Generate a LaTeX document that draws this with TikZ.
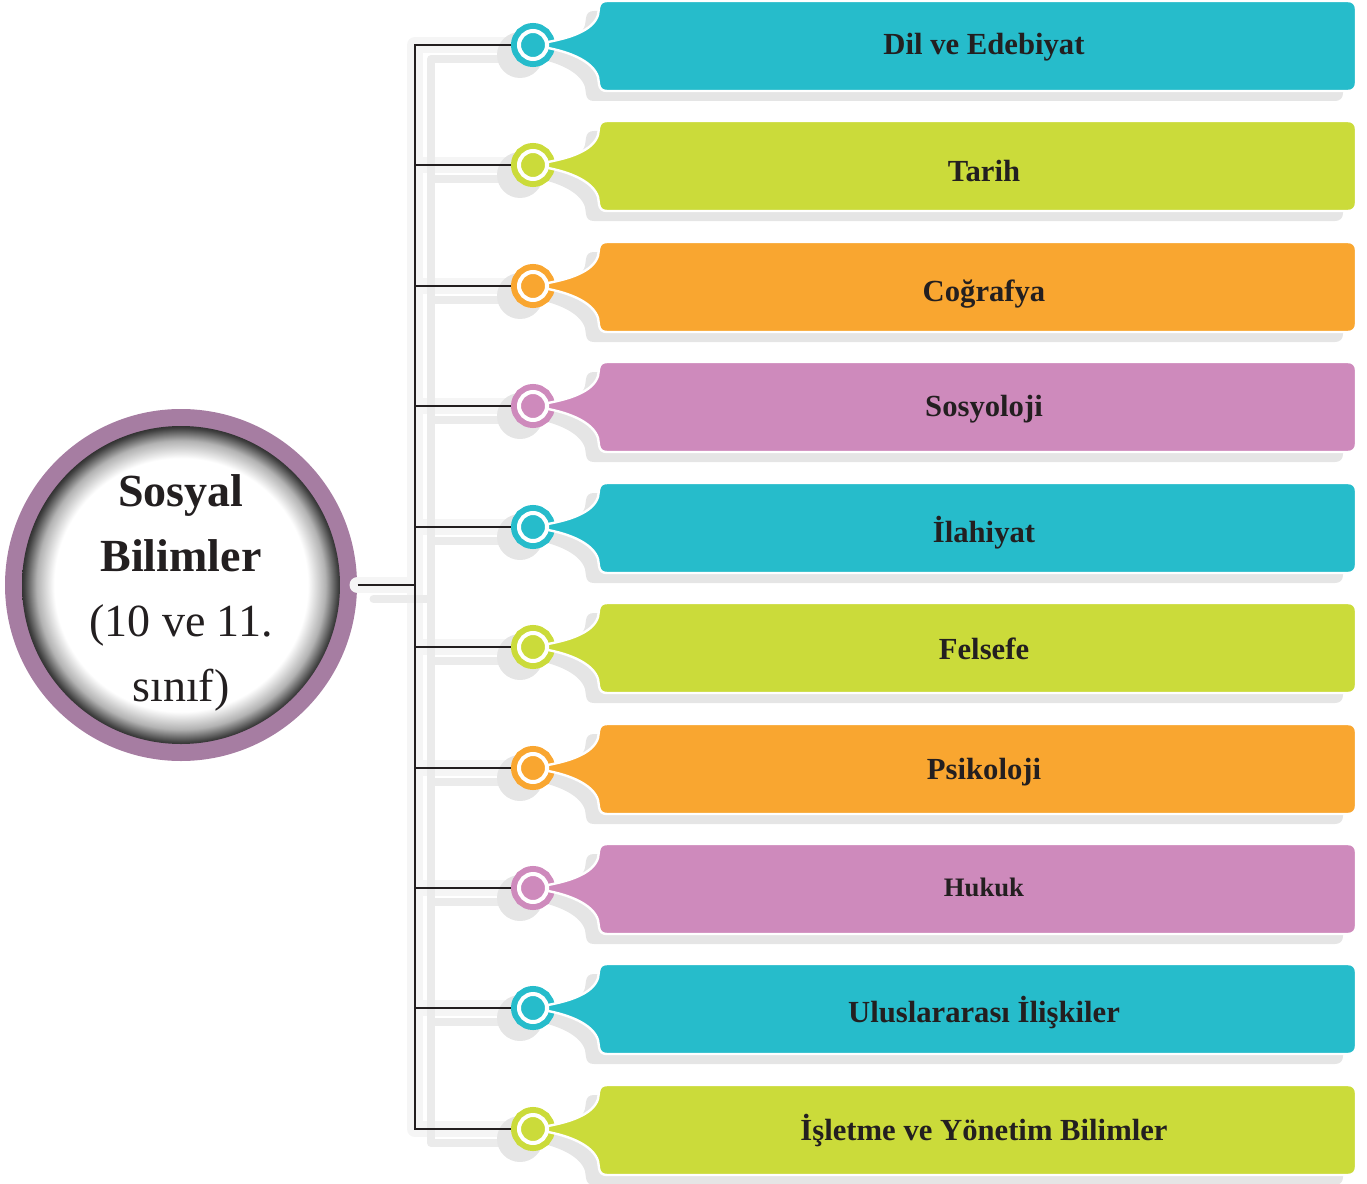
\documentclass[tikz,border=0pt]{standalone}
\usepackage{fontspec}
\setmainfont{Liberation Serif}

\definecolor{tealc}{RGB}{38,188,203}
\definecolor{limec}{RGB}{203,219,58}
\definecolor{orangec}{RGB}{249,166,48}
\definecolor{pinkc}{RGB}{206,138,188}
\definecolor{ringc}{RGB}{166,125,162}
\definecolor{shadec}{RGB}{229,229,229}
\definecolor{inkc}{RGB}{35,31,32}

\pgfdeclareradialshading{rimshade}{\pgfpoint{0bp}{0bp}}{color(0bp)=(white); color(18bp)=(white); color(20.5bp)=(black!30); color(22.3bp)=(black!75); color(23.5bp)=(black!95); color(25bp)=(black); color(50bp)=(black)}

%outline of one tag, seen from the centre of its knob (pics keep y pointing up)
\newcommand{\tagoutline}{(15,3) .. controls (36,7) and (60,14) .. (65,30) -- (66,37) .. controls (66.5,41.5) and (69,44) .. (74,44) -- (815,44) .. controls (820,44) and (823,41) .. (823,36) -- (823,-38) .. controls (823,-43) and (820,-46) .. (815,-46) -- (74,-46) .. controls (69,-46) and (66.5,-43.5) .. (66,-39) -- (65,-32) .. controls (60,-16) and (36,-7) .. (15,-3) -- cycle}

\tikzset{every picture/.style={line width=0.75pt},
  linkline/.style={draw=inkc, line width=1.5pt},
  linkshade/.style={draw=black!8, line width=6pt, line cap=round, preaction={draw=black!4, line width=12pt, line cap=round}},
  bigdisc/.style={circle, minimum size=264pt, inner sep=0pt, fill=ringc, path picture={\shade[shading=rimshade] (path picture bounding box.center) circle (159);}},
  disctext/.style={align=center, inner sep=0pt, text=inkc, font=\fontsize{34.5}{48.75}\selectfont},
  knob/.style={circle, minimum size=21pt, inner sep=0pt, outer sep=6pt, fill=#1, draw=white, line width=3pt, preaction={draw=#1, line width=12pt}},
  tagtext/.style={anchor=base, inner sep=0.75pt, text=inkc, font=\fontsize{23}{27}\selectfont\bfseries},
  pics/tagshade/.style={code={\fill[shadec] (-13,-10) circle (23); \fill[shadec, shift={(-13,-10)}] \tagoutline;}},
  pics/tagbody/.style={code={\filldraw[fill=#1, draw=white, line width=1.8pt] \tagoutline;}}
}

\begin{document}
\begin{tikzpicture}[x=0.75pt,y=0.75pt,yscale=-1,xscale=1]
\useasboundingbox (0,0) rectangle (1367,1184);

%Shape: Circle [main topic]
\node[bigdisc] (sb) at (181,585) {};
% Text Node
\node[disctext] (sbt) at (181,593) {\textbf{Sosyal}\\\textbf{Bilimler}\\(10 ve 11.\\sınıf)};

%Junctions on the stem
\coordinate (hub) at (415,585);
\coordinate (t1) at (415,45);
\coordinate (t2) at (415,165);
\coordinate (t3) at (415,286);
\coordinate (t4) at (415,406);
\coordinate (t5) at (415,527);
\coordinate (t6) at (415,647);
\coordinate (t7) at (415,768);
\coordinate (t8) at (415,888);
\coordinate (t9) at (415,1008);
\coordinate (t10) at (415,1129);

%Shadows of the lines
\draw[linkshade, transform canvas={shift={(16,-14)}}] (sb.east) -- (hub) (t1) -- (t10) (t1) -- ++(96,0) (t2) -- ++(96,0) (t3) -- ++(96,0) (t4) -- ++(96,0) (t5) -- ++(96,0) (t6) -- ++(96,0) (t7) -- ++(96,0) (t8) -- ++(96,0) (t9) -- ++(96,0) (t10) -- ++(96,0);

%Shadows of the tags
\pic at (533,45) {tagshade};
\pic at (533,165) {tagshade};
\pic at (533,286) {tagshade};
\pic at (533,406) {tagshade};
\pic at (533,527) {tagshade};
\pic at (533,647) {tagshade};
\pic at (533,768) {tagshade};
\pic at (533,888) {tagshade};
\pic at (533,1008) {tagshade};
\pic at (533,1129) {tagshade};

%Tags
\node[knob=tealc] (k1) at (533,45) {};
\pic at (k1) {tagbody=tealc};
\node[tagtext] (n1) at (984,55) {Dil ve Edebiyat};

\node[knob=limec] (k2) at (533,165) {};
\pic at (k2) {tagbody=limec};
\node[tagtext] (n2) at (984,182) {Tarih};

\node[knob=orangec] (k3) at (533,286) {};
\pic at (k3) {tagbody=orangec};
\node[tagtext] (n3) at (984,301) {Coğrafya};

\node[knob=pinkc] (k4) at (533,406) {};
\pic at (k4) {tagbody=pinkc};
\node[tagtext] (n4) at (984,416) {Sosyoloji};

\node[knob=tealc] (k5) at (533,527) {};
\pic at (k5) {tagbody=tealc};
\node[tagtext] (n5) at (984,542) {İlahiyat};

\node[knob=limec] (k6) at (533,647) {};
\pic at (k6) {tagbody=limec};
\node[tagtext] (n6) at (984,659) {Felsefe};

\node[knob=orangec] (k7) at (533,768) {};
\pic at (k7) {tagbody=orangec};
\node[tagtext] (n7) at (984,779) {Psikoloji};

\node[knob=pinkc] (k8) at (533,888) {};
\pic at (k8) {tagbody=pinkc};
\node[tagtext, font=\fontsize{20}{24}\selectfont\bfseries] (n8) at (984,896) {Hukuk};

\node[knob=tealc] (k9) at (533,1008) {};
\pic at (k9) {tagbody=tealc};
\node[tagtext] (n9) at (984,1022) {Uluslararası İlişkiler};

\node[knob=limec] (k10) at (533,1129) {};
\pic at (k10) {tagbody=limec};
\node[tagtext] (n10) at (984,1140) {İşletme ve Yönetim Bilimler};

%Straight Lines
\draw[linkline] (k1) -- (t1) -- (t10) -- (k10);
\draw[linkline] (t2) -- (k2);
\draw[linkline] (t3) -- (k3);
\draw[linkline] (t4) -- (k4);
\draw[linkline] (t5) -- (k5);
\draw[linkline] (t6) -- (k6);
\draw[linkline] (t7) -- (k7);
\draw[linkline] (t8) -- (k8);
\draw[linkline] (t9) -- (k9);
\draw[linkline] (sb) -- (hub);

\end{tikzpicture}
\end{document}
